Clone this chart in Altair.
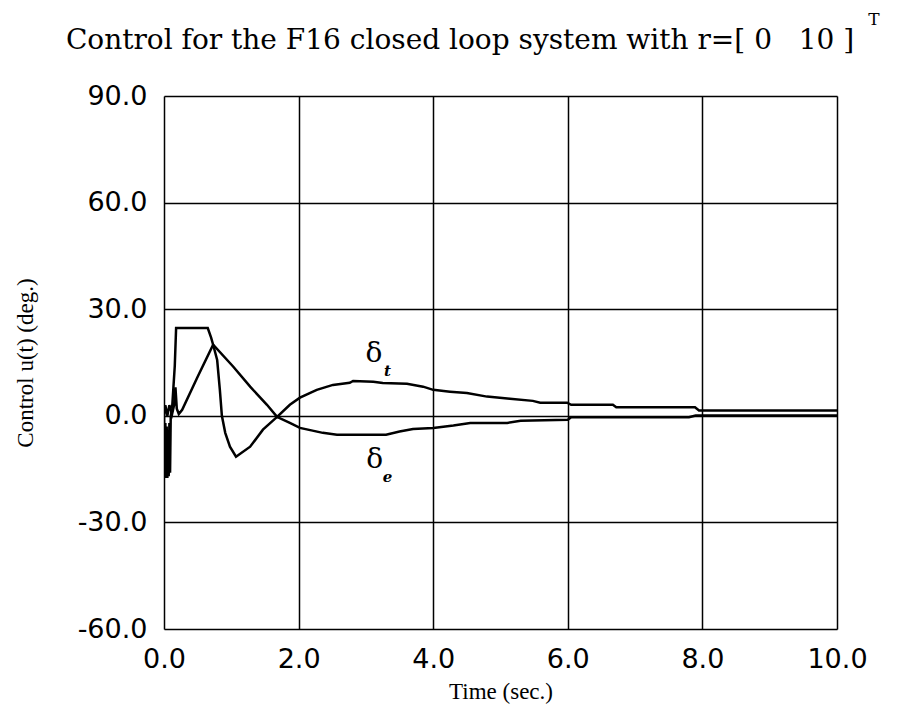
import altair as alt
import pandas as pd

# ---- data ----
t_e = [0.0, 0.01, 0.02, 0.03, 0.04, 0.05, 0.06, 0.07, 0.08, 0.09, 0.10, 0.12, 0.14, 0.16, 0.18,
       0.40, 0.65, 0.70, 0.73, 0.79, 0.83, 0.86, 0.91, 0.98, 1.07, 1.28, 1.47, 1.68, 1.87, 2.02,
       2.36, 2.57, 3.30, 3.50, 3.70, 4.00, 4.30, 4.55, 5.10, 5.30, 6.00, 6.05, 7.80, 7.90, 10.0]
u_e = [0.0, -17.0, -2.0, -17.5, -3.0, -17.5, -4.0, -17.0, -2.0, -16.0, 0.0, 2.0, 8.0, 14.0, 24.7,
       24.7, 24.7, 22.0, 20.0, 15.7, 7.3, 0.0, -4.8, -8.7, -11.5, -8.7, -3.9, -0.3, -2.0, -3.4,
       -4.8, -5.3, -5.3, -4.4, -3.7, -3.4, -2.7, -2.0, -2.0, -1.4, -1.1, -0.4, -0.4, 0.1, 0.1]

t_t = [0.0, 0.02, 0.05, 0.08, 0.12, 0.15, 0.17, 0.19, 0.22, 0.27, 0.50, 0.73, 1.03, 1.28, 1.53,
       1.68, 1.87, 2.02, 2.27, 2.51, 2.76, 2.81, 3.11, 3.25, 3.61, 3.85, 4.00, 4.25, 4.50, 4.80,
       5.14, 5.48, 5.59, 5.99, 6.05, 6.67, 6.72, 7.89, 7.95, 10.0]
u_t = [0.0, 3.0, 0.0, 3.0, 0.5, 3.0, 8.0, 2.0, 0.5, 1.7, 11.0, 20.0, 13.8, 8.2, 3.1,
       -0.3, 3.1, 5.1, 7.3, 8.7, 9.3, 9.8, 9.6, 9.2, 9.0, 8.2, 7.3, 6.8, 6.4, 5.4,
       4.8, 4.2, 3.7, 3.7, 3.1, 3.1, 2.4, 2.4, 1.5, 1.5]

x_ticks = [0, 2, 4, 6, 8, 10]
y_ticks = [-60, -30, 0, 30, 60, 90]

label_sym = ["δ", "δ"]
label_t = [3.12, 3.13]
label_u = [17.5, -12.5]
sub_text = ["t", "e"]
sub_t = [3.32, 3.32]
sub_u = [12.6, -17.2]

title_text = ["Control for the F16 closed loop system with r=[ 0\u00a0\u00a0\u00a010 ]"]
sup_text = ["T"]

rows = []
for i, (a, b) in enumerate(zip(t_e, u_e)):
    rows.append({"series": "delta_e", "i": i, "t": a, "u": b})
for i, (a, b) in enumerate(zip(t_t, u_t)):
    rows.append({"series": "delta_t", "i": i, "t": a, "u": b})
df = pd.DataFrame(rows)
lab = pd.DataFrame({"s": label_sym, "t": label_t, "u": label_u})
sub = pd.DataFrame({"s": sub_text, "t": sub_t, "u": sub_u})

x_scale = alt.Scale(domain=[0, 10], nice=False)
y_scale = alt.Scale(domain=[-60, 90], nice=False)

lbl = "(datum.value < 0 ? '-' : '') + format(abs(datum.value), '.1f')"

x_axis = alt.Axis(values=x_ticks, labelExpr=lbl, title="Time (sec.)", grid=True,
                  gridColor="black", gridWidth=1.5, gridOpacity=1, ticks=False, domain=False,
                  labelFont="DejaVu Sans", labelFontSize=27, labelColor="black",
                  labelPadding=17, titleFont="Liberation Serif", titleFontSize=23,
                  titleFontWeight="normal", titleColor="black", titlePadding=8,
                  labelFlush=False, labelOverlap=False)
y_axis = alt.Axis(values=y_ticks, labelExpr=lbl, title="Control u(t) (deg.)", grid=True,
                  gridColor="black", gridWidth=1.5, gridOpacity=1, ticks=False, domain=False,
                  labelFont="DejaVu Sans", labelFontSize=27, labelColor="black",
                  labelPadding=17, titleFont="Liberation Serif", titleFontSize=23,
                  titleFontWeight="normal", titleColor="black", titlePadding=40,
                  labelFlush=False, labelOverlap=False)

lines = alt.Chart(df).mark_line(color="black", strokeWidth=2.5, clip=True).encode(
    x=alt.X("t:Q", scale=x_scale, axis=x_axis),
    y=alt.Y("u:Q", scale=y_scale, axis=y_axis),
    detail="series:N",
    order="i:Q",
)

deltas = alt.Chart(lab).mark_text(font="DejaVu Serif", fontSize=28, color="black").encode(
    x=alt.X("t:Q", scale=x_scale), y=alt.Y("u:Q", scale=y_scale), text="s:N")

subs = alt.Chart(sub).mark_text(font="DejaVu Serif", fontSize=15, fontWeight="bold",
                                fontStyle="italic", color="black").encode(
    x=alt.X("t:Q", scale=x_scale), y=alt.Y("u:Q", scale=y_scale), text="s:N")

title = alt.Chart(pd.DataFrame({"s": title_text})).mark_text(
    font="DejaVu Serif", fontSize=28, color="black", align="center", baseline="middle").encode(
    x=alt.value(296), y=alt.value(-55), text="s:N")

sup = alt.Chart(pd.DataFrame({"s": sup_text})).mark_text(
    font="DejaVu Serif", fontSize=17, color="black", align="center", baseline="middle").encode(
    x=alt.value(710), y=alt.value(-76), text="s:N")

chart = alt.layer(lines, deltas, subs, title, sup).properties(
    width=673, height=533,
    autosize=alt.AutoSizeParams(type="none"),
    padding={"left": 156, "top": 88, "right": 69, "bottom": 91},
).configure_view(stroke="black", strokeWidth=2).configure(background="white")

chart.save("out.html", embed_options={"renderer": "svg", "actions": False})
